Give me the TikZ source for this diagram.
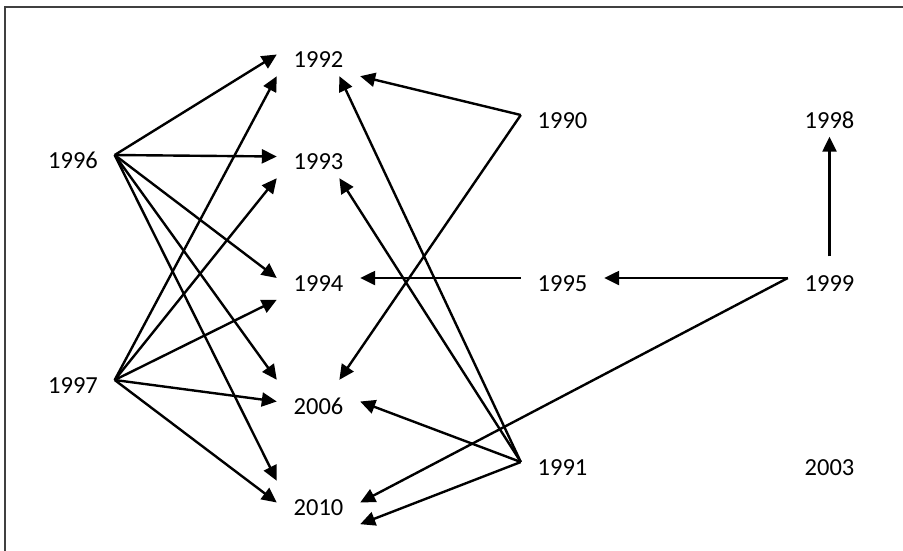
\documentclass[tikz,border=0pt]{standalone}
\usepackage{fontspec}
\setmainfont{Carlito}
\usetikzlibrary{arrows.meta,calc}
\begin{document}
\begin{tikzpicture}[x=1pt,y=-1pt,
  yr/.style={rectangle,inner sep=0pt,minimum width=83pt,minimum height=43pt,
    text height=26pt,text depth=0pt,font=\fontsize{24.5}{28}\selectfont},
  conn/.style={line width=2.4pt,-{Triangle[length=15pt,width=14pt]}}]
\useasboundingbox (0,0) rectangle (903,550);
\draw[line width=1.8pt,draw=black!75] (5,7) rectangle (915,565);
% nodes
\node[yr] (n1996) at (73,155) {1996};
\node[yr] (n1997) at (73,380) {1997};
\node[yr] (n1992) at (318.5,54.5) {1992};
\node[yr] (n1993) at (318.5,156.5) {1993};
\node[yr] (n1994) at (318.5,278) {1994};
\node[yr] (n2006) at (318.5,401.5) {2006};
\node[yr] (n2010) at (318.5,502.5) {2010};
\node[yr] (n1990) at (562.5,115) {1990};
\node[yr] (n1995) at (562.5,278) {1995};
\node[yr] (n1991) at (562.5,462) {1991};
\node[yr] (n1998) at (829.5,115) {1998};
\node[yr] (n1999) at (829.5,278) {1999};
\node[yr] (n2003) at (829.5,462) {2003};
% connectors from 1996
\draw[conn] (n1996.east) -- (n1992.west);
\draw[conn] (n1996.east) -- (n1993.west);
\draw[conn] (n1996.east) -- (n1994.west);
\draw[conn] (n1996.east) -- (n2006.north west);
\draw[conn] (n1996.east) -- (n2010.north west);
% connectors from 1997
\draw[conn] (n1997.east) -- (n1992.south west);
\draw[conn] (n1997.east) -- (n1993.south west);
\draw[conn] (n1997.east) -- (n1994.south west);
\draw[conn] (n1997.east) -- (n2006.west);
\draw[conn] (n1997.east) -- (n2010.west);
% connectors from 1990
\draw[conn] (n1990.west) -- (n1992.south east);
\draw[conn] (n1990.west) -- ($(n2006.north)!0.5!(n2006.north east)$);
% connectors from 1991
\draw[conn] (n1991.west) -- ($(n1992.south)!0.5!(n1992.south east)$);
\draw[conn] (n1991.west) -- ($(n1993.south)!0.5!(n1993.south east)$);
\draw[conn] (n1991.west) -- (n2006.east);
\draw[conn] (n1991.west) -- (n2010.south east);
% others
\draw[conn] (n1995.west) -- (n1994.east);
\draw[conn] (n1999.west) -- (n1995.east);
\draw[conn] (n1999.west) -- (n2010.east);
\draw[conn] (n1999.north) -- (n1998.south);
\end{tikzpicture}
\end{document}
